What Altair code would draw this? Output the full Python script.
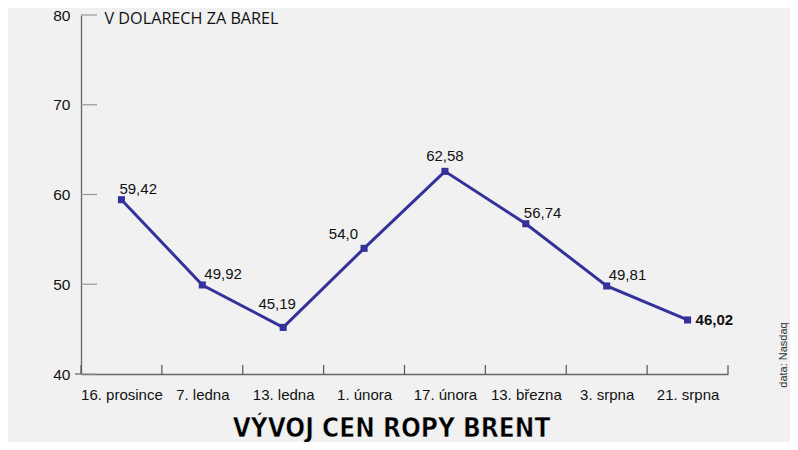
import json
import altair as alt
import pandas as pd

categories = ["16. prosince", "7. ledna", "13. ledna", "1. února", "17. února",
              "13. března", "3. srpna", "21. srpna"]
prices = [59.42, 49.92, 45.19, 54.0, 62.58, 56.74, 49.81, 46.02]
price_labels = ["59,42", "49,92", "45,19", "54,0", "62,58", "56,74", "49,81", "46,02"]
y_ticks = [40, 50, 60, 70, 80]

df = pd.DataFrame({
    "pos": [i + 0.5 for i in range(len(categories))],
    "cat": categories,
    "price": prices,
    "lab": price_labels,
})
bounds = pd.DataFrame({"b": list(range(len(categories) + 1))})
yt = pd.DataFrame({"t": y_ticks})
yt_low = pd.DataFrame({"t": [y_ticks[0]]})

W, H = 647, 359
LINE = "#34329a"
FONT = "Liberation Sans"

cat_js = json.dumps(categories, ensure_ascii=False)

x_enc = alt.X(
    "pos:Q",
    scale=alt.Scale(domain=[0, len(categories)], nice=False, zero=False),
    axis=alt.Axis(
        values=[i + 0.5 for i in range(len(categories))],
        labelExpr=f"{cat_js}[floor(datum.value)]",
        ticks=False, grid=False, title=None,
        domainColor="#666", domainWidth=1.3,
        labelFont=FONT, labelFontSize=15, labelColor="#111",
        labelPadding=13, labelBaseline="top",
    ),
)
y_scale = alt.Scale(domain=[40, 80], nice=False, zero=False)
y_enc = alt.Y(
    "price:Q",
    scale=y_scale,
    axis=alt.Axis(
        values=y_ticks, ticks=False, grid=False,
        title="V DOLARECH ZA BAREL", titleAngle=0, titleAlign="left",
        titleBaseline="middle", titleX=23, titleY=3.5,
        titleFont="Open Sans", titleFontWeight="normal", titleFontSize=16.2,
        titleColor="#111",
        domainColor="#666", domainWidth=1.3,
        labelFont=FONT, labelFontSize=15.5, labelColor="#111", labelPadding=11,
    ),
)

base = alt.Chart(df)

line = base.mark_line(color=LINE, strokeWidth=3).encode(x=x_enc, y=y_enc)
pts = base.mark_point(shape="square", filled=True, opacity=1, color=LINE, size=50).encode(
    x="pos:Q", y="price:Q")

xticks = alt.Chart(bounds).mark_rule(color="#555", strokeWidth=1.2).encode(
    x="b:Q", y=alt.value(H - 9), y2=alt.value(H))
yticks = alt.Chart(yt).mark_rule(color="#999", strokeWidth=1.2).encode(
    y=alt.Y("t:Q", scale=y_scale), x=alt.value(0), x2=alt.value(16))
ytick_low = alt.Chart(yt_low).mark_rule(color="#666", strokeWidth=1.2).encode(
    y=alt.Y("t:Q", scale=y_scale), x=alt.value(-6), x2=alt.value(0))


def lab_layer(cats, **kw):
    return base.transform_filter(
        alt.FieldOneOfPredicate(field="cat", oneOf=cats)
    ).mark_text(font=FONT, fontSize=15, color="#111", **kw).encode(
        x="pos:Q", y="price:Q", text="lab:N")


labs = [
    lab_layer(["16. prosince", "13. března"], align="left", baseline="alphabetic", dx=-2, dy=-6),
    lab_layer(["7. ledna", "3. srpna"], align="left", baseline="alphabetic", dx=2, dy=-6),
    lab_layer(["13. ledna"], align="center", baseline="alphabetic", dx=-6, dy=-18),
    lab_layer(["1. února"], align="right", baseline="alphabetic", dx=-6, dy=-9),
    lab_layer(["17. února"], align="center", baseline="alphabetic", dx=0, dy=-10),
    lab_layer(["21. srpna"], align="left", baseline="middle", dx=8, dy=0, fontWeight="bold"),
]

ann = pd.DataFrame({"t": ["VÝVOJ CEN ROPY BRENT"]})
title_txt = alt.Chart(ann).mark_text(
    font="DejaVu Sans Condensed", fontWeight="bold", fontSize=26, color="#000",
    align="center", baseline="alphabetic", stroke="#ffffff", strokeWidth=0.5,
).encode(text="t:N", x=alt.value(310.5), y=alt.value(422))

src = pd.DataFrame({"t": ["data: Nasdaq"]})
source = alt.Chart(src).mark_text(
    font=FONT, fontSize=11, color="#333", angle=270, align="center", baseline="middle",
).encode(text="t:N", x=alt.value(703), y=alt.value(340))

chart = alt.layer(
    yticks, ytick_low, xticks, line, pts, *labs, title_txt, source
).properties(
    width=W, height=H,
    autosize=alt.AutoSizeParams(type="none"),
    padding={"left": 73, "top": 7, "right": 62, "bottom": 68},
    background="#f1f1f1",
).configure_view(stroke=None)

chart.save("out.html", embed_options={"renderer": "svg", "actions": False})
